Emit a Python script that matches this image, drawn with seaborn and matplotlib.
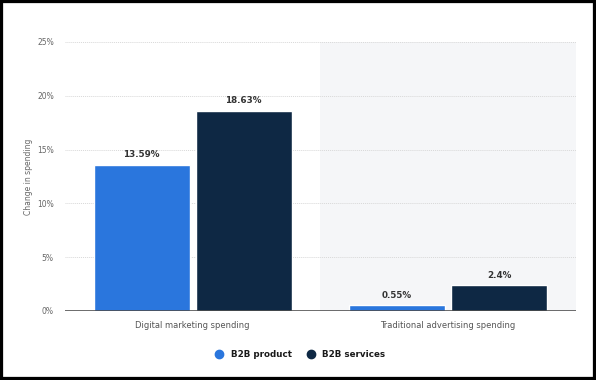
import pandas as pd
import numpy as np
import seaborn as sns
import matplotlib.pyplot as plt
from matplotlib.patches import Rectangle
from matplotlib.lines import Line2D

sns.set_style("white")
plt.rcParams['font.family'] = ['DejaVu Sans']

# data
categories = ["Digital marketing spending", "Traditional advertising spending"]
series_names = ["B2B product", "B2B services"]
b2b_product = [13.59, 0.55]
b2b_services = [18.63, 2.4]
value_labels = [["13.59%", "0.55%"], ["18.63%", "2.4%"]]
y_ticks = [0, 5, 10, 15, 20, 25]

colors = ["#2a76dd", "#0e2844"]

df = pd.DataFrame({
    "category": categories * 2,
    "series": [series_names[0]] * 2 + [series_names[1]] * 2,
    "value": b2b_product + b2b_services,
})

fig = plt.figure(figsize=(5.96, 3.8), dpi=100)
ax = fig.add_axes([0.109, 0.1816, 0.857, 0.708])

# shaded right half
ax.axvspan(0.5, 1.5, color="#f5f6f8", zorder=0, lw=0)

sns.barplot(data=df, x="category", y="value", hue="series", palette=colors,
            width=0.8, gap=0.06, ax=ax, legend=False, zorder=3, saturation=1)

ax.set_xlim(-0.5, 1.5)
ax.set_ylim(0, 25)
ax.set_yticks(y_ticks)
ax.set_yticklabels([f"{t}%" for t in y_ticks], fontsize=5.5, color="#666666")
ax.tick_params(axis="y", length=0, pad=8)
ax.tick_params(axis="x", length=0, pad=7, labelsize=6, labelcolor="#555555")
for t in y_ticks[1:]:
    ax.axhline(t, color="#d8d8d8", lw=0.7, ls=(0, (1, 1)), zorder=1)
ax.axhline(0, color="#444444", lw=1.1, zorder=4)

ax.set_xlabel("")
ax.set_ylabel("Change in spending", fontsize=5.5, color="#666666", labelpad=3)
for s in ax.spines.values():
    s.set_visible(False)

# value labels
for cont, labs in zip(ax.containers, value_labels):
    ax.bar_label(cont, labels=labs, padding=4, fontsize=6.3, color="#333333",
                 fontweight="bold")

# legend
handles = [Line2D([], [], marker="o", ls="", color=c, markersize=6) for c in colors]
fig.legend(handles, series_names, loc="center", bbox_to_anchor=(0.5, 0.066),
           ncol=2, frameon=False, handletextpad=0.3,
           columnspacing=1.2, labelcolor="#1a1a1a",
           prop={"weight": "bold", "size": 6.3})

# black frame around the screenshot
fig.patches.append(Rectangle((0, 0), 1, 1, transform=fig.transFigure,
                             fill=False, ec="black", lw=4.5, zorder=10))

fig.savefig("out.png", dpi=100, facecolor="white")
